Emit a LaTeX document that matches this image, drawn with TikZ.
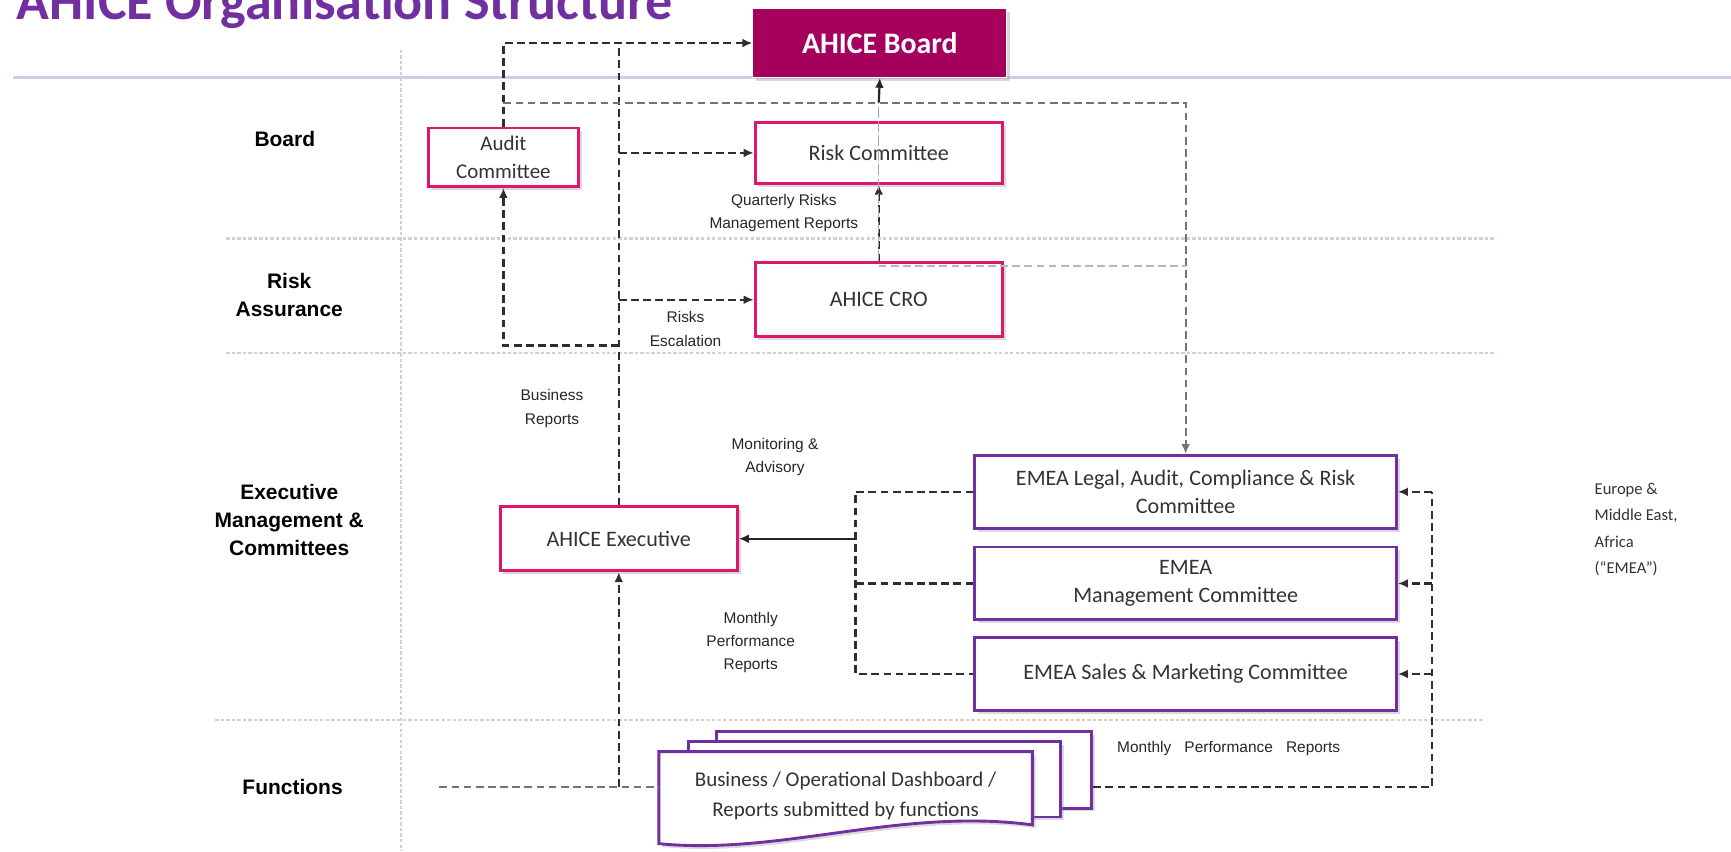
\documentclass[tikz,border=0pt]{standalone}
\usepackage{fontspec}
\setmainfont{Carlito}
\newfontfamily\arialfont{Liberation Sans}
\usetikzlibrary{positioning,arrows.meta,shadows,calc}
\definecolor{boardred}{RGB}{166,0,93}
\definecolor{pinkline}{RGB}{222,22,108}
\definecolor{emeapurple}{RGB}{112,48,160}
\definecolor{rulepurple}{RGB}{218,200,234}
\tikzset{
  orgbox/.style={draw=pinkline, line width=2.6pt, fill=white, align=center,
    text=black!80, font=\fontsize{20}{25}\selectfont, inner sep=4pt,
    drop shadow={shadow xshift=3pt, shadow yshift=-3pt, opacity=0.3}},
  emeabox/.style={orgbox, draw=emeapurple, minimum width=382pt, minimum height=66pt},
  boardbox/.style={draw=white, line width=1pt, fill=boardred, text=white,
    font=\bfseries\fontsize{27}{32}\selectfont,
    drop shadow={shadow xshift=3pt, shadow yshift=-3pt, opacity=0.3}},
  docpage/.style={draw=emeapurple, line width=2.6pt, fill=white,
    drop shadow={shadow xshift=3pt, shadow yshift=-3pt, opacity=0.3}},
  doctext/.style={align=center, text=black!80, font=\fontsize{19}{27}\selectfont},
  seclabel/.style={font=\arialfont\bfseries\fontsize{19}{25}\selectfont, align=center},
  flowlabel/.style={font=\arialfont\fontsize{14}{21}\selectfont, align=center, text=black!85},
  notetext/.style={font=\fontsize{15}{24}\selectfont, align=left, text=black!80},
  flowline/.style={line width=2.1pt, draw=black!82, dash pattern=on 7pt off 4pt},
  flowarrow/.style={flowline, -{Latex[length=9pt,width=8pt]}},
  greyline/.style={flowline, draw=black!55},
  gridrule/.style={line width=2pt, draw=black!18, dash pattern=on 3pt off 2pt},
}

\begin{document}
\begin{tikzpicture}[x=1pt, y=-1pt]
  \useasboundingbox (0,0) rectangle (1568,771);
  % title
  \node[anchor=base west, inner sep=0pt, text=emeapurple,
    font=\bfseries\fontsize{49}{52}\selectfont] (title) at (15,18) {AHICE Organisation Structure};
  \draw[rulepurple, line width=3pt] (12,70) -- (1568,70);
  % lanes
  \draw[gridrule] (363,45) -- (363,771);
  \draw[gridrule] (205,216) -- (1355,216);
  \draw[gridrule] (205,320) -- (1355,320);
  \draw[gridrule] (195,652) -- (1345,652);
  \node[seclabel] (laneboard) at (258,126) {Board};
  \node[seclabel] (lanerisk) at (262,267) {Risk\\Assurance};
  \node[seclabel] (laneexec) at (262,471) {Executive\\Management \&\\Committees};
  \node[seclabel] (lanefunc) at (265,713) {Functions};

  \coordinate (topbus) at (456,93);
  \coordinate (escal) at (560.5,313);
  \coordinate (emeaL) at (775,488);
  \coordinate (emeaR) at (1297,528);
  \coordinate (funcrow) at (398,713);

  % boxes
  \node[boardbox, minimum width=230pt, minimum height=62pt] (board) at (797,39) {AHICE Board};
  \node[orgbox, minimum width=136pt, minimum height=53pt, font=\fontsize{19}{25}\selectfont] (audit) at (456,142.5) {Audit\\Committee};
  \node[orgbox, minimum width=224pt, minimum height=55pt] (risk) at (796,138.5) {Risk Committee};
  \node[orgbox, minimum width=224pt, minimum height=67pt] (cro) at (796,271.5) {AHICE CRO};
  \node[orgbox, minimum width=215pt, minimum height=58pt] (exec) at (560.5,488) {AHICE Executive};
  \node[emeabox] (legal) at (1074,445.5) {EMEA Legal, Audit, Compliance \& Risk\\Committee};
  \node[emeabox] (mgmt) at (1074,528.5) {EMEA\\Management Committee};
  \node[emeabox] (sales) at (1074,610.5) {EMEA Sales \& Marketing Committee};

  % reports stack
  \node[docpage, minimum width=340pt, minimum height=69pt] (page3) at (819,697.5) {};
  \node[docpage, minimum width=337pt, minimum height=68pt] (page2) at (792.5,706) {};
  \node[minimum width=338pt, minimum height=80pt, inner sep=0pt] (docs) at (766,721) {};
  \draw[docpage] (docs.north west) -- (docs.north east) -- ([yshift=14pt]docs.south east)
    .. controls ([xshift=-120pt,yshift=30pt]docs.south east) and ([xshift=110pt,yshift=-14pt]docs.south west)
    .. ([yshift=-3pt]docs.south west) -- cycle;
  \node[doctext] (doctitle) at (docs) {Business / Operational Dashboard /\\Reports submitted by functions};

  % reporting to the board
  \draw[flowarrow] (audit.north) |- (board.west);
  \draw[flowline] (exec.north) -- (exec.north |- board.west);
  \draw[flowarrow] (exec.north |- risk.west) -- (risk.west);
  \draw[flowarrow] (exec.north |- cro.west) -- (cro.west);
  \draw[flowarrow] (escal) -| (audit.south);
  \draw[greyline, -{Latex[length=9pt,width=8pt]}] (topbus) -| (legal.north);
  \draw[line width=2pt, black!85, -{Latex[length=9pt,width=8pt]}] (risk.north |- topbus) -- (board.south);
  \draw[flowarrow] (cro.north) -- (risk.south);
  \draw[black!35, line width=1pt, dash pattern=on 10pt off 3pt] (cro.north) -- (risk.north |- topbus);
  \draw[greyline, draw=black!28] ([yshift=-4pt]cro.north) -- ([yshift=-4pt]cro.north -| legal.north);

  % EMEA committees to executive
  \draw[flowline] (legal.west) -| (emeaL |- sales.west) -- (sales.west);
  \draw[flowline] (mgmt.west) -- (mgmt.west -| emeaL);
  \draw[line width=2pt, black!85, -{Latex[length=9pt,width=8pt]}] (emeaL) -- (exec.east);

  % functions
  \draw[greyline] (funcrow) -- (funcrow -| docs.west);
  \draw[flowarrow] (funcrow -| exec.south) -- (exec.south);
  \draw[flowline] (funcrow -| page3.east) -| (emeaR |- legal.east);
  \draw[flowarrow] (emeaR |- legal.east) -- (legal.east);
  \draw[flowarrow] (emeaR |- mgmt.east) -- (mgmt.east);
  \draw[flowarrow] (emeaR |- sales.east) -- (sales.east);

  % labels
  \node[flowlabel] (lblbusiness) at (500,370) {Business\\Reports};
  \node[flowlabel] (lblquarterly) at (710,193) {Quarterly Risks\\Management Reports};
  \node[flowlabel] (lblescalation) at (621,298) {Risks\\Escalation};
  \node[flowlabel] (lblmonitor) at (702,414) {Monitoring \&\\Advisory};
  \node[flowlabel] (lblmonthly) at (680,582) {Monthly\\Performance\\Reports};
  \node[flowlabel] (lblfuncrep) at (1113,678) {Monthly\hspace{8pt} Performance\hspace{8pt} Reports};
  \node[notetext, anchor=west] (emeanote) at (1441,479.5) {Europe \&\\Middle East,\\Africa\\(“EMEA”)};
\end{tikzpicture}
\end{document}
